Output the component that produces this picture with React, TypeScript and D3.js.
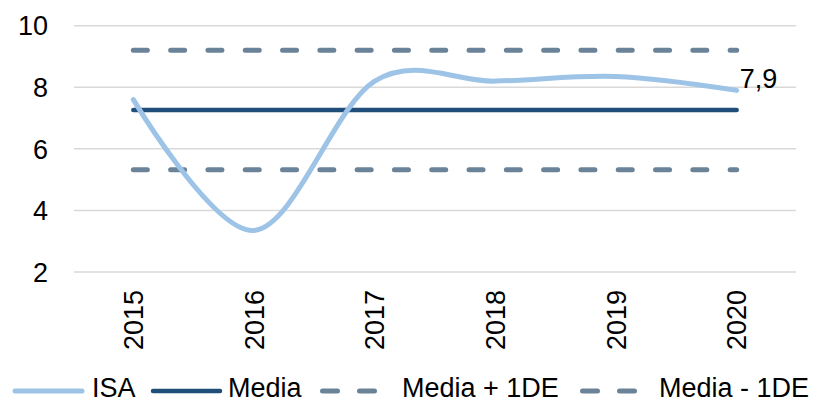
import React from "react";
import * as d3 from "d3";

const years = ["2015", "2016", "2017", "2018", "2019", "2020"];
const isa = [7.6, 3.35, 8.2, 8.2, 8.35, 7.9];
const media = [7.26, 7.26, 7.26, 7.26, 7.26, 7.26];
const mediaPlus = [9.2, 9.2, 9.2, 9.2, 9.2, 9.2];
const mediaMinus = [5.32, 5.32, 5.32, 5.32, 5.32, 5.32];
const yTicks = [2, 4, 6, 8, 10];
const lastLabel = "7,9";

const W = 821;
const H = 403;
const FONT = "'Liberation Sans', Arial, sans-serif";
const C_ISA = "#9dc3e6";
const C_MEDIA = "#1f4e79";
const C_DE = "#6a8398";
const C_GRID = "#d9d9d9";

export default function App() {
  const x = d3.scaleBand<string>().domain(years).range([73, 797]);
  const y = d3.scaleLinear().domain([2, 10]).range([272, 25.7]);
  const cx = (d: string) => (x(d) as number) + x.bandwidth() / 2;

  const smooth = d3
    .line<number>()
    .x((_, i) => cx(years[i]))
    .y((v) => y(v))
    .curve(d3.curveCardinal.tension(0));
  const straight = d3
    .line<number>()
    .x((_, i) => cx(years[i]))
    .y((v) => y(v));

  const dash = "14 23.3";
  const legendY = 391;
  const legendBase = 397;
  const legend = [
    { label: "ISA", color: C_ISA, x1: 15, x2: 82, tx: 92, dashed: false, w: 5 },
    { label: "Media", color: C_MEDIA, x1: 153, x2: 220, tx: 228, dashed: false, w: 4.5 },
    { label: "Media + 1DE", color: C_DE, x1: 322.5, x2: 378, tx: 402, dashed: true, w: 5 },
    { label: "Media - 1DE", color: C_DE, x1: 582.5, x2: 637, tx: 659, dashed: true, w: 5 },
  ];

  return (
    <svg
      width={W}
      height={H}
      style={{ position: "absolute", left: 0, top: 0, fontFamily: FONT }}
    >
      <rect width={W} height={H} fill="#fff" />
      {yTicks.map((t) => (
        <g key={t}>
          <line x1={74} x2={796} y1={y(t)} y2={y(t)} stroke={C_GRID} strokeWidth={1.5} />
          <text x={48} y={y(t)} dy="0.36em" textAnchor="end" fontSize={27} fill="#000">
            {t}
          </text>
        </g>
      ))}
      {years.map((yr) => (
        <text
          key={yr}
          transform={`translate(${cx(yr)},290) rotate(-90)`}
          dy="0.36em"
          textAnchor="end"
          fontSize={27}
          fill="#000"
        >
          {yr}
        </text>
      ))}
      <path d={straight(mediaPlus) || ""} fill="none" stroke={C_DE} strokeWidth={5} strokeDasharray={dash} strokeLinecap="round" />
      <path d={straight(mediaMinus) || ""} fill="none" stroke={C_DE} strokeWidth={5} strokeDasharray={dash} strokeLinecap="round" />
      <path d={straight(media) || ""} fill="none" stroke={C_MEDIA} strokeWidth={4.5} strokeLinecap="round" />
      <path d={smooth(isa) || ""} fill="none" stroke={C_ISA} strokeWidth={5} strokeLinecap="round" />
      <text
        x={cx(years[years.length - 1]) + 3}
        y={y(isa[isa.length - 1]) - 2}
        fontSize={27}
        fill="#000"
      >
        {lastLabel}
      </text>
      {legend.map((l) => (
        <g key={l.label}>
          <line
            x1={l.x1}
            x2={l.x2}
            y1={legendY}
            y2={legendY}
            stroke={l.color}
            strokeWidth={l.w}
            strokeLinecap="round"
            strokeDasharray={l.dashed ? "15 22" : undefined}
          />
          <text x={l.tx} y={legendBase} fontSize={27} fill="#000">
            {l.label}
          </text>
        </g>
      ))}
    </svg>
  );
}
